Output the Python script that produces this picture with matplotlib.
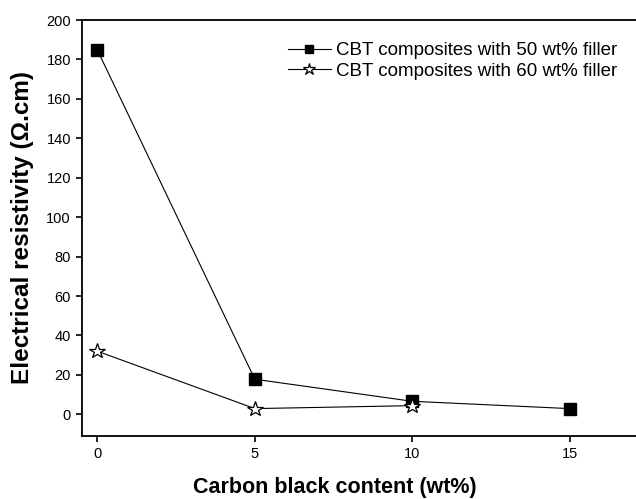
import numpy as np
import matplotlib
matplotlib.use('agg')
import matplotlib.pyplot as plt

plt.rcParams['font.family'] = ['Liberation Sans', 'DejaVu Sans']

# carbon black loading (wt%) and measured resistivity (ohm.cm)
cb_50 = [0, 5, 10, 15]
rho_50 = [184.7, 17.8, 6.6, 2.9]
cb_60 = [0, 5, 10]
rho_60 = [32.0, 2.9, 4.4]

labels = ['CBT composites with 50 wt% filler', 'CBT composites with 60 wt% filler']

fig = plt.figure(figsize=(6.36, 4.99), dpi=100)
ax = fig.add_axes([82/636, 1 - 436/499, (642 - 82)/636, (436 - 20)/499])

ax.plot(cb_50, rho_50, c='black', linewidth=0.8, marker='s', markersize=8,
        markerfacecolor='black', markeredgecolor='black', label=labels[0])
ax.plot(cb_60, rho_60, c='black', linewidth=0.8, marker='*', markersize=11.5,
        markerfacecolor='white', markeredgecolor='black', markeredgewidth=0.9,
        label=labels[1])

ax.set_xlim(-0.49, 17.3)
ax.set_ylim(-11, 200)
ax.set_xticks([0, 5, 10, 15])
ax.set_yticks(np.arange(0, 201, 20))
ax.tick_params(direction='out', length=4, width=1.2, labelsize=10.5, pad=4)
for s in ['left', 'bottom', 'top', 'right']:
    ax.spines[s].set_linewidth(1.3)

ax.set_xlabel('Carbon black content (wt%)', fontsize=15.5, fontweight='bold')
ax.xaxis.set_label_coords(0.452, -0.125)
ax.xaxis.label.set_verticalalignment('center')
ax.set_ylabel('Electrical resistivity (Ω.cm)', fontsize=17.5, fontweight='bold', labelpad=9)

leg = ax.legend(loc='upper left', bbox_to_anchor=(0.354, 0.965), frameon=False,
                fontsize=13.5, handlelength=2.3, handletextpad=0.3, labelspacing=0.2,
                borderaxespad=0, markerscale=0.8)

fig.savefig('out.png', dpi=100)
plt.close(fig)
